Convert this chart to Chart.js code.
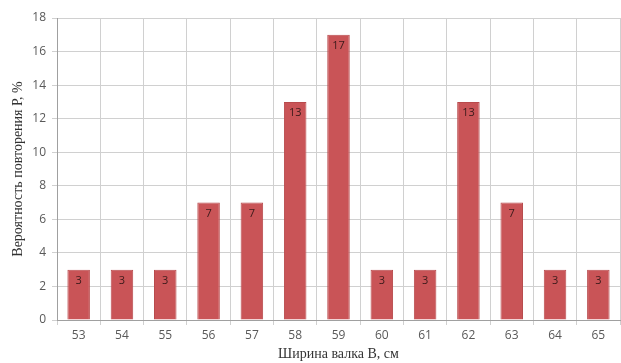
<!DOCTYPE html>
<html><head><meta charset="utf-8">
<script src="https://cdn.jsdelivr.net/npm/chart.js@4/dist/chart.umd.min.js"></script>
<style>html,body{margin:0;padding:0;background:#fff}#w{width:621px;height:363px}</style>
</head><body><div id="w"><canvas id="c"></canvas></div>
<script>
const categories = ['53','54','55','56','57','58','59','60','61','62','63','64','65'];
const values = [3,3,3,7,7,13,17,3,3,13,7,3,3];
const yTicks = [0,2,4,6,8,10,12,14,16,18];
const xTitle = 'Ширина валка В, см';
const yTitle = 'Вероятность повторения Р, %';

const labelPlugin = {
  id: 'barLabels',
  afterDatasetsDraw(chart) {
    const ctx = chart.ctx;
    const meta = chart.getDatasetMeta(0);
    ctx.save();
    ctx.font = '11px "Open Sans", sans-serif';
    ctx.fillStyle = '#3a1a1a';
    ctx.textAlign = 'center';
    ctx.textBaseline = 'middle';
    meta.data.forEach((el, i) => {
      ctx.fillText(String(values[i]), el.x, el.y + 11);
    });
    ctx.restore();
  }
};

new Chart(document.getElementById('c'), {
  type: 'bar',
  data: {
    labels: categories,
    datasets: [{
      data: values,
      backgroundColor: '#c95457',
      borderColor: '#b84a4c',
      borderWidth: 1,
      categoryPercentage: 1,
      barPercentage: 0.52
    }]
  },
  options: {
    responsive: true,
    maintainAspectRatio: false,
    animation: false,
    layout: { padding: { top: 18, right: 1, left: 0, bottom: 0 } },
    plugins: { legend: { display: false }, tooltip: { enabled: false } },
    scales: {
      x: {
        grid: { color: '#d0d0d0', lineWidth: 1, offset: true, tickLength: 5, drawTicks: true },
        border: { color: '#a0a0a0' },
        ticks: { color: '#595959', font: { family: '"Open Sans", sans-serif', size: 12 }, padding: 3, maxRotation: 0 },
        title: { display: true, text: xTitle, color: '#333', font: { family: '"Liberation Serif", serif', size: 14 }, padding: { top: 0, bottom: 0 } },
        afterFit(s) { s.height = 43; }
      },
      y: {
        min: 0, max: 18,
        afterBuildTicks(s) { s.ticks = yTicks.map(v => ({ value: v })); },
        grid: { color: '#d0d0d0', lineWidth: 1, tickLength: 5 },
        border: { color: '#a0a0a0' },
        ticks: { color: '#595959', font: { family: '"Open Sans", sans-serif', size: 12 }, padding: 6 },
        title: { display: true, text: yTitle, color: '#333', font: { family: '"Liberation Serif", serif', size: 14 }, padding: { top: 10, bottom: 0 } },
        afterFit(s) { s.width = 57; }
      }
    }
  },
  plugins: [labelPlugin]
});
</script>
</body></html>
